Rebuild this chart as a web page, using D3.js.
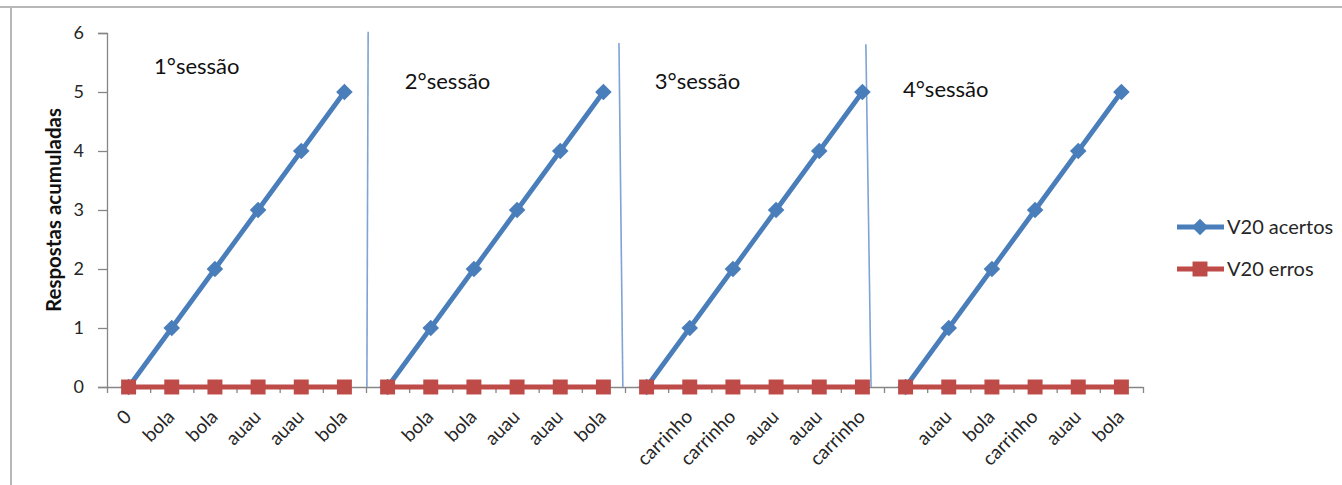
<!DOCTYPE html>
<html>
<head>
<meta charset="utf-8">
<script src="https://cdn.jsdelivr.net/npm/d3@7/dist/d3.min.js"></script>
<style>
  html, body { margin: 0; padding: 0; background: #fff; }
  svg { display: block; }
  text { font-family: Lato, "Noto Sans", sans-serif; }
</style>
</head>
<body>
<svg id="chart" width="1342" height="485"></svg>
<script>
// Stimulus presented at each trial, one list per session
const session1Labels = ["0", "bola", "bola", "auau", "auau", "bola"];
const session2Labels = ["", "bola", "bola", "auau", "auau", "bola"];
const session3Labels = ["", "carrinho", "carrinho", "auau", "auau", "carrinho"];
const session4Labels = ["", "auau", "bola", "carrinho", "auau", "bola"];

// Cumulative responses per session
const acertosS1 = [0, 1, 2, 3, 4, 5];
const acertosS2 = [0, 1, 2, 3, 4, 5];
const acertosS3 = [0, 1, 2, 3, 4, 5];
const acertosS4 = [0, 1, 2, 3, 4, 5];
const errosS1 = [0, 0, 0, 0, 0, 0];
const errosS2 = [0, 0, 0, 0, 0, 0];
const errosS3 = [0, 0, 0, 0, 0, 0];
const errosS4 = [0, 0, 0, 0, 0, 0];

const sessionNames = ["1°sessão", "2°sessão", "3°sessão", "4°sessão"];
const seriesNames = ["V20 acertos", "V20 erros"];
const yTicks = [0, 1, 2, 3, 4, 5, 6];
const yTitle = "Respostas acumuladas";

// Hand-drawn session dividers and titles, in axis units (category index, response count)
const dividers = [
  { x0: 6.05, y0: 6.02, x1: 6.02, y1: 0 },
  { x0: 11.86, y0: 5.83, x1: 11.95, y1: 0 },
  { x0: 17.58, y0: 5.81, x1: 17.70, y1: 0 }
];
const sessionTitlePos = [
  { x: 1.09, y: 5.31 },
  { x: 6.90, y: 5.05 },
  { x: 12.69, y: 5.05 },
  { x: 18.44, y: 4.92 }
];

const sessions = [
  { labels: session1Labels, acertos: acertosS1, erros: errosS1 },
  { labels: session2Labels, acertos: acertosS2, erros: errosS2 },
  { labels: session3Labels, acertos: acertosS3, erros: errosS3 },
  { labels: session4Labels, acertos: acertosS4, erros: errosS4 }
];

const BLUE = "#4A7EBB";
const RED = "#BE4B48";
const AXIS = "#868686";
const TEXT = "#262626";

const svg = d3.select("#chart");
const plot = { left: 107, right: 1143, top: 33, bottom: 387 };

const nCats = d3.sum(sessions, s => s.labels.length);
const allLabels = sessions.flatMap(s => s.labels);

// Continuous category axis: integer k is the boundary before category k
const xc = d3.scaleLinear().domain([0, nCats]).range([plot.left, plot.right]);
const xMid = i => xc(i + 0.5);
const y = d3.scaleLinear().domain([0, 6]).range([plot.bottom, plot.top]);

// Outer frame (top and left edges)
svg.append("line").attr("x1", 0).attr("x2", 1342).attr("y1", 7).attr("y2", 7)
  .attr("stroke", "#b8b8b8").attr("stroke-width", 2);
svg.append("line").attr("x1", 11).attr("x2", 11).attr("y1", 7).attr("y2", 485)
  .attr("stroke", "#b8b8b8").attr("stroke-width", 2);

// Y axis
const yAxis = svg.append("g")
  .attr("transform", `translate(${plot.left},0)`)
  .call(d3.axisLeft(y).tickValues(yTicks).tickFormat(d3.format("d")).tickSize(9).tickPadding(14));
yAxis.select(".domain").attr("stroke", AXIS).attr("stroke-width", 1.3);
yAxis.selectAll(".tick line").attr("stroke", AXIS).attr("stroke-width", 1.3);
yAxis.selectAll(".tick text").attr("fill", TEXT).style("font-size", "18px")
  .style("font-family", "Lato, sans-serif");

// X axis: tick marks on category boundaries
const xAxis = svg.append("g")
  .attr("transform", `translate(0,${plot.bottom})`)
  .call(d3.axisBottom(xc).tickValues(d3.range(nCats + 1)).tickFormat("").tickSize(6).tickSizeOuter(0));
xAxis.select(".domain").attr("stroke", AXIS).attr("stroke-width", 1.3);
xAxis.selectAll(".tick line").attr("stroke", AXIS).attr("stroke-width", 1.3);

// Category labels, rotated
svg.append("g").selectAll("text")
  .data(allLabels)
  .join("text")
  .attr("transform", (d, i) => `translate(${xMid(i) + 4},${plot.bottom + 31}) rotate(-45)`)
  .attr("text-anchor", "end")
  .attr("fill", TEXT)
  .style("font-size", "19px")
  .text(d => d);

// Y axis title
svg.append("text")
  .attr("transform", `translate(61,210) rotate(-90)`)
  .attr("text-anchor", "middle")
  .attr("fill", "#111")
  .style("font-size", "20.5px")
  .style("font-weight", "bold")
  .text(yTitle);

// Session dividers
svg.append("g").selectAll("line")
  .data(dividers)
  .join("line")
  .attr("x1", d => xc(d.x0)).attr("y1", d => y(d.y0))
  .attr("x2", d => xc(d.x1)).attr("y2", d => y(d.y1))
  .attr("stroke", "#7FA3D3").attr("stroke-width", 1.6);

// Session titles
svg.append("g").selectAll("text")
  .data(sessionNames)
  .join("text")
  .attr("x", (d, i) => xc(sessionTitlePos[i].x))
  .attr("y", (d, i) => y(sessionTitlePos[i].y))
  .attr("fill", "#111")
  .style("font-size", "22px")
  .text(d => d);

// Series, drawn session by session so the lines break between sessions
let offset = 0;
const segs = sessions.map(s => {
  const seg = { start: offset, acertos: s.acertos, erros: s.erros };
  offset += s.labels.length;
  return seg;
});

const line = d3.line().x(d => xMid(d.i)).y(d => y(d.v));
const diamond = d3.symbol().type(d3.symbolDiamond2).size(175);
const square = d3.symbol().type(d3.symbolSquare2).size(285);

function drawSeries(key, color, symbolGen) {
  const g = svg.append("g");
  segs.forEach(seg => {
    const pts = seg[key].map((v, j) => ({ i: seg.start + j, v }));
    g.append("path")
      .attr("d", line(pts))
      .attr("fill", "none")
      .attr("stroke", color)
      .attr("stroke-width", 4.8)
      .attr("stroke-linejoin", "round");
    g.selectAll(null).data(pts).join("path")
      .attr("transform", d => `translate(${xMid(d.i)},${y(d.v)})`)
      .attr("d", symbolGen)
      .attr("fill", color);
  });
}
drawSeries("acertos", BLUE, diamond);
drawSeries("erros", RED, square);

// Legend
const legend = svg.append("g");
const legendItems = [
  { name: seriesNames[0], color: BLUE, sym: diamond, y: 227 },
  { name: seriesNames[1], color: RED, sym: square, y: 269 }
];
legendItems.forEach(it => {
  legend.append("line").attr("x1", 1177).attr("x2", 1224).attr("y1", it.y).attr("y2", it.y)
    .attr("stroke", it.color).attr("stroke-width", 4.8);
  legend.append("path").attr("transform", `translate(1200,${it.y})`).attr("d", it.sym).attr("fill", it.color);
  legend.append("text").attr("x", 1227).attr("y", it.y).attr("dy", "0.35em")
    .attr("fill", TEXT).style("font-size", "20px").text(it.name);
});
</script>
</body>
</html>
